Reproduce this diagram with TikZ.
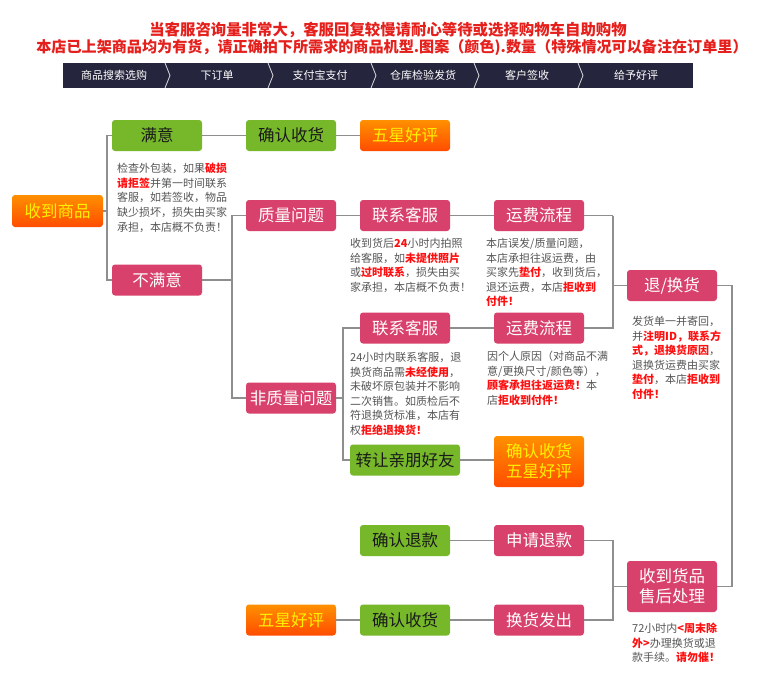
\documentclass[tikz,border=0pt]{standalone}
\usepackage{fontspec}
\setmainfont{Noto Sans CJK SC}
\usepackage{xcolor}
\usepackage{tikz}
\usetikzlibrary{calc,positioning}
\definecolor{headred}{HTML}{E5201C}
\definecolor{barnavy}{HTML}{25253D}
\definecolor{okgreen}{HTML}{76B82A}
\definecolor{rosebox}{HTML}{D8416C}
\definecolor{orangetop}{HTML}{FF9000}
\definecolor{orangebot}{HTML}{FF4C00}
\definecolor{staryellow}{HTML}{FFF100}
\definecolor{darktext}{HTML}{1A1A1A}
\definecolor{notegray}{HTML}{555555}
\definecolor{hilite}{HTML}{FF1010}
\definecolor{linegray}{HTML}{8E8E8E}

\tikzset{
  flowbox/.style={rounded corners=3pt, minimum width=90pt, minimum height=31pt, inner sep=0pt, align=center, font=\fontsize{16.5}{20}\selectfont},
  greenbox/.style={flowbox, fill=okgreen, text=darktext},
  pinkbox/.style={flowbox, fill=rosebox, text=white},
  orangebox/.style={flowbox, top color=orangetop, bottom color=orangebot, text=staryellow},
  notetext/.style={anchor=north west, align=left, inner sep=0pt, text=notegray, font=\fontsize{11}{14.6}\selectfont},
  link/.style={draw=linegray, line width=1.6pt},
}
\newcommand{\hl}[1]{{\bfseries\color{hilite}#1}}

\begin{document}
\begin{tikzpicture}[x=1pt, y=-1pt]

\useasboundingbox[fill=white] (0,0) rectangle (760,678);

% Header notice
\node[font=\fontsize{15.4}{17}\selectfont\bfseries\color{headred}] (head1) at (388,30) {当客服咨询量非常大，客服回复较慢请耐心等待或选择购物车自助购物};
\node[font=\fontsize{15.1}{17}\selectfont\bfseries\color{headred}] (head2) at (392,48) {本店已上架商品均为有货，请正确拍下所需求的商品机型.图案（颜色).数量（特殊情况可以备注在订单里）};

% Step bar
\fill[barnavy] (63,63) rectangle (693,88);
\foreach \x in {165,268,371,474,578}
  \draw[white!75!gray, line width=0.8pt] (\x,63) -- (\x+5,75.5) -- (\x,88);
\foreach \lbl/\x [count=\i] in {商品搜索选购/114, 下订单/217, 支付宝支付/320, 仓库检验发货/423, 客户签收/527, 给予好评/636}
  \node[text=white, font=\fontsize{11}{13}\selectfont] (step\i) at (\x,75.5) {\lbl};

% Receive goods
\node[orangebox, minimum width=91pt, minimum height=32pt] (recv) at (57.5,211) {收到商品};

% Satisfied branch
\node[greenbox] (ok) at (157,135.5) {满意};
\node[greenbox] (okconfirm) at (291,135.5) {确认收货};
\node[orangebox] (okstar) at (405,135.5) {五星好评};
\node[notetext] (okn) at (117,163) {检查外包装，如果\hl{破损}\\\hl{请拒签}并第一时间联系\\客服，如若签收，物品\\缺少损坏，损失由买家\\承担，本店概不负责！};

% Not satisfied branch
\node[pinkbox] (nok) at (157,280) {不满意};
\node[pinkbox] (quality) at (291,215.5) {质量问题};
\node[pinkbox] (svc1) at (405,215.5) {联系客服};
\node[pinkbox] (fee1) at (539,215.5) {运费流程};
\node[notetext] (svc1n) at (350,238) {收到货后\hl{24}小时内拍照\\给客服，如\hl{未提供照片}\\或\hl{过时联系}，损失由买\\家承担，本店概不负责！};
\node[notetext] (fee1n) at (486,238) {本店误发/质量问题，\\本店承担往返运费，由\\买家先\hl{垫付}，收到货后，\\退还运费，本店\hl{拒收到}\\\hl{付件！}};

\node[pinkbox] (nonq) at (291,398) {非质量问题};
\node[pinkbox] (svc2) at (405,328) {联系客服};
\node[pinkbox] (fee2) at (539,328) {运费流程};
\node[notetext] (svc2n) at (350,352) {24小时内联系客服，退\\换货商品需\hl{未经使用}，\\未破坏原包装并不影响\\二次销售。如质检后不\\符退换货标准，本店有\\权\hl{拒绝退换货！}};
\node[notetext] (fee2n) at (487,351) {因个人原因（对商品不满\\意/更换尺寸/颜色等），\\\hl{顾客承担往返运费！}本\\店\hl{拒收到付件！}};
\node[greenbox, minimum width=110pt] (gift) at (405,460) {转让亲朋好友};
\node[orangebox, minimum height=51pt] (giftstar) at (539,461.5) {确认收货\\五星好评};

% Return / exchange
\node[pinkbox] (ret) at (672,285.5) {退/换货};
\node[notetext] (retn) at (632,316) {发货单一并寄回，\\并\hl{注明ID，联系方}\\\hl{式，退换货原因}，\\退换货运费由买家\\\hl{垫付}，本店\hl{拒收到}\\\hl{付件！}};

% After-sale handling
\node[pinkbox, minimum height=51pt] (after) at (672,586.5) {收到货品\\售后处理};
\node[notetext] (aftern) at (632,623) {72小时内\hl{<周末除}\\\hl{外>}办理换货或退\\款手续。\hl{请勿催！}};
\node[pinkbox] (refund) at (539,540.5) {申请退款};
\node[greenbox] (refundok) at (405,540.5) {确认退款};
\node[pinkbox] (ship) at (539,620) {换货发出};
\node[greenbox] (confirm3) at (405,620) {确认收货};
\node[orangebox] (star3) at (291,620) {五星好评};

% Connectors
\draw[link] (recv.east) -- ++(4,0) coordinate (j0);
\draw[link] (j0) |- (ok.west);
\draw[link] (j0) |- (nok.west);
\draw[link] (ok) -- (okconfirm);
\draw[link] (okconfirm) -- (okstar);

\draw[link] (nok.east) -- ++(30,0) coordinate (j1);
\draw[link] (j1) |- (quality.west);
\draw[link] (j1) |- (nonq.west);
\draw[link] (quality) -- (svc1);
\draw[link] (svc1) -- (fee1);

\draw[link] (nonq.east) -- ++(7,0) coordinate (j2);
\draw[link] (j2) |- (svc2.west);
\draw[link] (j2) |- (gift.west);
\draw[link] (svc2) -- (fee2);
\draw[link] (gift.east) -- (gift.east -| giftstar.west);

\draw[link] (fee1.east) -- ++(29,0) coordinate (j3);
\draw[link] (j3) |- (fee2.east);
\draw[link] (ret.west) -- (ret.west -| j3);

\draw[link] (ret.east) -- ++(15,0) |- (after.east);

\draw[link] (after.west) -- ++(-14,0) coordinate (j4);
\draw[link] (j4) |- (refund.east);
\draw[link] (j4) |- (ship.east);
\draw[link] (refund) -- (refundok);
\draw[link] (ship) -- (confirm3);
\draw[link] (confirm3) -- (star3);

\end{tikzpicture}
\end{document}
